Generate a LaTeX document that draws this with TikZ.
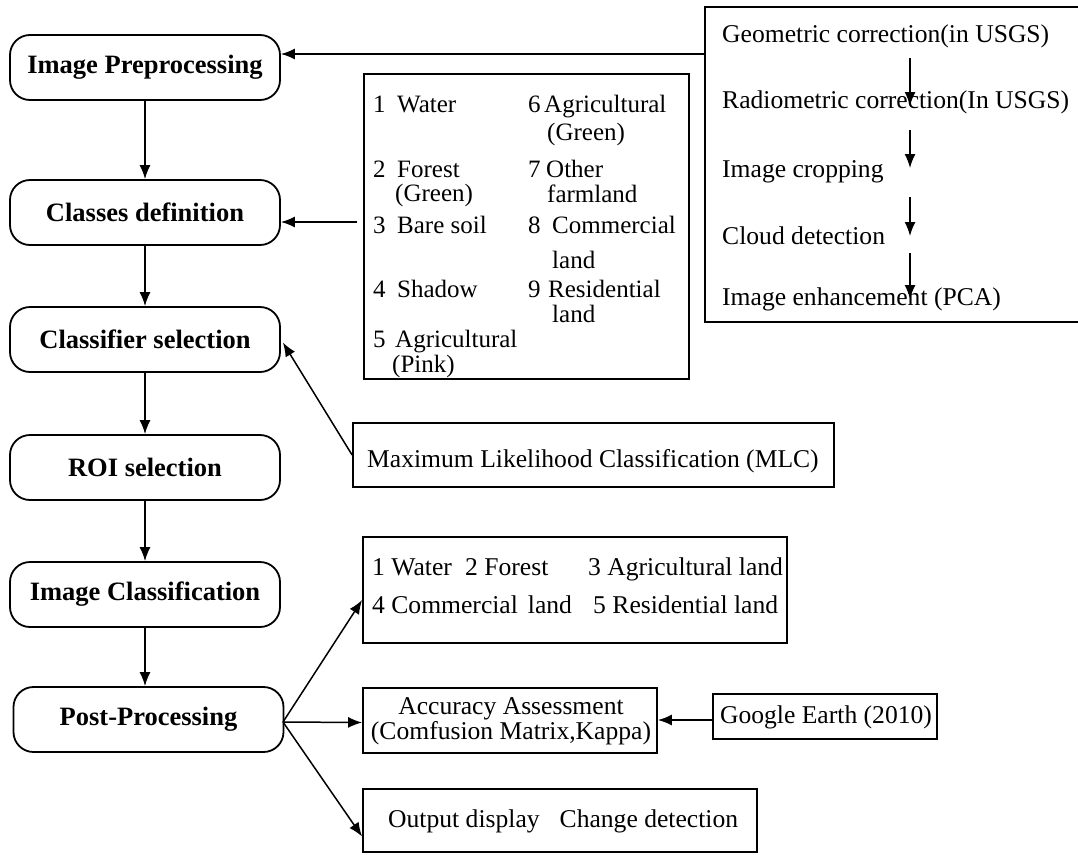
\documentclass[tikz,border=0pt]{standalone}
\usepackage{fontspec}
\setmainfont{Liberation Serif}
\usetikzlibrary{arrows.meta}
\newcommand\nb[2]{\makebox[#1][l]{#2}}
\begin{document}
\begin{tikzpicture}[x=1pt,y=-1pt,
  rbox/.style={draw, line width=1.8pt, rounded corners=20pt, inner sep=0pt,
    minimum width=270pt, minimum height=65pt,
    font=\bfseries\fontsize{26.5}{30}\selectfont},
  sbox/.style={draw, line width=1.8pt, inner sep=0pt},
  txt/.style={inner sep=0pt, anchor=base west, font=\fontsize{25.6}{28}\selectfont},
  ktxt/.style={inner sep=0pt, anchor=base west, font=\fontsize{25}{28}\selectfont},
  ctxt/.style={inner sep=0pt, anchor=base, font=\fontsize{25.6}{28}\selectfont},
  arr/.style={line width=1.5pt, -{Latex[length=14pt,width=11pt]}}]
\useasboundingbox (0,0) rectangle (1078,854);
\fill[white] (0,0) rectangle (1078,854);
% left flow
\node[rbox] (ip)  at (145,67.5)  {Image Preprocessing};
\node[rbox] (cd)  at (145,212.5) {Classes definition};
\node[rbox] (cs)  at (145,339.5) {Classifier selection};
\node[rbox] (roi) at (145,467.5) {ROI selection};
\node[rbox] (ic)  at (145,594.5) {Image Classification};
\node[rbox] (pp)  at (148.5,719.5) {Post-Processing};
\draw[arr] (ip) -- (cd);
\draw[arr] (cd) -- (cs);
\draw[arr] (cs) -- (roi);
\draw[arr] (roi) -- (ic);
\draw[arr] (ic.south) -- (ic.south |- pp.north);
% right preprocessing box
\node[sbox, minimum width=385pt, minimum height=315pt] (R) at (897.5,164.5) {};
\node[txt] (g1) at (722,42)  {Geometric correction(in USGS)};
\node[txt] (g2) at (722,108) {Radiometric correction(In USGS)};
\node[txt] (g3) at (722,177) {Image cropping};
\node[txt] (g4) at (722,244) {Cloud detection};
\node[txt] (g5) at (722,305) {Image enhancement (PCA)};
\coordinate (a1s) at (910,58);  \coordinate (a1e) at (910,106);
\coordinate (a2s) at (910,130); \coordinate (a2e) at (910,168);
\coordinate (a3s) at (910,197); \coordinate (a3e) at (910,236);
\coordinate (a4s) at (910,253); \coordinate (a4e) at (910,299);
\draw[arr] (a1s) -- (a1e);
\draw[arr] (a2s) -- (a2e);
\draw[arr] (a3s) -- (a3e);
\draw[arr] (a4s) -- (a4e);
\coordinate (rout) at (705,54);
\draw[arr] (rout) -- (rout -| ip.east);
% classes box
\node[sbox, minimum width=325pt, minimum height=305pt] (K) at (526.5,226.5) {};
\node[ktxt] at (373,112) {\nb{24pt}{1}Water};
\node[ktxt] at (373,177) {\nb{24pt}{2}Forest};
\node[ktxt] at (395,201) {(Green)};
\node[ktxt] at (373,233) {\nb{24pt}{3}Bare soil};
\node[ktxt] at (373,297) {\nb{24pt}{4}Shadow};
\node[ktxt] at (373,347) {\nb{22pt}{5}Agricultural};
\node[ktxt] at (392,372) {(Pink)};
\node[ktxt] at (528,112) {\nb{16pt}{6}Agricultural};
\node[ktxt] at (547,140) {(Green)};
\node[ktxt] at (528,177) {\nb{18pt}{7}Other};
\node[ktxt] at (547,202) {farmland};
\node[ktxt] at (528,233) {\nb{24pt}{8}Commercial};
\node[ktxt] at (552,268) {land};
\node[ktxt] at (528,297) {\nb{20pt}{9}Residential};
\node[ktxt] at (552,322) {land};
\coordinate (kin) at (357,222);
\draw[arr] (kin) -- (kin -| cd.east);
% MLC
\node[sbox, minimum width=481pt, minimum height=64pt] (mlc) at (593.5,455) {};
\node[txt] at (367,467) {Maximum Likelihood Classification (MLC)};
\draw[arr] (mlc.west) -- ([shift={(2pt,-3pt)}]cs.east);
% water list
\node[sbox, minimum width=424pt, minimum height=106pt] (W) at (575,590) {};
\node[txt] at (372,575) {\nb{93pt}{1 Water}\nb{123pt}{2 Forest}3 Agricultural land};
\node[txt] at (372,613) {\nb{221pt}{4 Commercial\hspace{10pt}land}5 Residential land};
% accuracy
\node[sbox, minimum width=294pt, minimum height=65pt] (A) at (510,720.5) {};
\node[ctxt] at (511,714) {Accuracy Assessment};
\node[ctxt] at (511,739) {(Comfusion Matrix,Kappa)};
% google earth
\node[sbox, minimum width=224pt, minimum height=45pt] (G) at (825,716.5) {};
\node[ctxt] at (826,723) {Google Earth (2010)};
% output
\node[sbox, minimum width=394pt, minimum height=63pt] (O) at (560,820.5) {};
\node[txt] at (388,827) {Output display\hspace{20pt}Change detection};
% post-processing arrows
\coordinate (pout) at (283,722);
\draw[arr] (pout) -- ([yshift=-10pt]W.west);
\draw[arr] (pout) -- ([yshift=-2pt]A.west);
\draw[arr] (pout) -- ([yshift=-16pt]O.west);
\draw[arr] (G.west |- 0,720) -- (A.east |- 0,720);
\end{tikzpicture}
\end{document}
